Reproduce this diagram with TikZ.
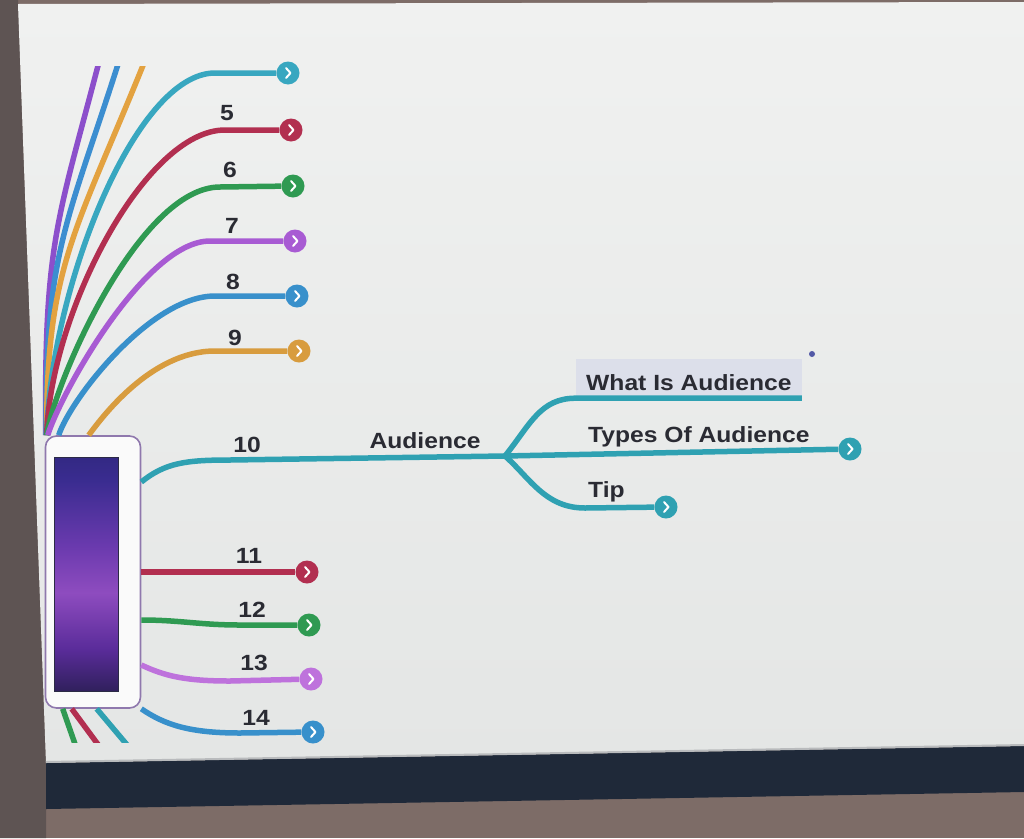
\documentclass[tikz,border=0pt]{standalone}
\usepackage{fontspec}
\setmainfont{Liberation Sans}[FakeStretch=1.12]
\usepackage{tikz}
\usetikzlibrary{positioning}

\definecolor{bezel}{HTML}{7D6C67}
\definecolor{bezelDark}{HTML}{5E5453}
\definecolor{screenTop}{HTML}{F0F1F0}
\definecolor{screenBot}{HTML}{E4E6E5}
\definecolor{dock}{HTML}{1F2939}
\definecolor{rim}{HTML}{B9BBBD}
\definecolor{ink}{HTML}{2A2B33}
\definecolor{hilite}{HTML}{DCDFEA}
\definecolor{handle}{HTML}{5259A6}
\definecolor{frame}{HTML}{8F78AD}
\definecolor{shotEdge}{HTML}{2B2A45}
\definecolor{tealA}{HTML}{38A7C0}
\definecolor{tealB}{HTML}{2FA1B2}
\definecolor{crimson}{HTML}{B22F50}
\definecolor{leaf}{HTML}{2F9A52}
\definecolor{violet}{HTML}{A85BD3}
\definecolor{orchid}{HTML}{BE72DC}
\definecolor{sky}{HTML}{3890CB}
\definecolor{amber}{HTML}{D89C3E}
\definecolor{fanP}{HTML}{8C4FCB}
\definecolor{fanB}{HTML}{3C8ED0}
\definecolor{fanO}{HTML}{E3A240}
\definecolor{shotA}{HTML}{1C1A3A}
\definecolor{shotB}{HTML}{221C48}
\definecolor{shotC}{HTML}{5A2C9A}
\definecolor{shotD}{HTML}{8E4CBF}
\definecolor{shotE}{HTML}{6A3AAE}
\definecolor{shotF}{HTML}{3A2C90}
\definecolor{shotG}{HTML}{25226A}
\definecolor{shotH}{HTML}{1F1D5A}

\pgfdeclareverticalshading{thumbglow}{100bp}{color(0bp)=(shotA); color(22bp)=(shotB);
  color(34bp)=(shotC); color(46bp)=(shotD); color(56bp)=(shotE); color(70bp)=(shotF);
  color(85bp)=(shotG); color(100bp)=(shotH)}

\begin{document}
\begin{tikzpicture}[x=1pt,y=-1pt,
    twig/.style={line width=5.5pt, draw=#1},
    endmark/.style={circle, fill=#1, minimum size=23pt, inner sep=0pt,
      path picture={\draw[white, line width=2pt, line cap=round, line join=round]
        ([xshift=-2pt,yshift=5pt]path picture bounding box.center) -- ++(4.5pt,-5pt) -- ++(-4.5pt,-5pt);}},
    lbl/.style={font=\fontsize{22}{26}\selectfont\bfseries, text=ink, inner sep=0pt}]
  \useasboundingbox (0,0) rectangle (1024,838);

  % laptop screen
  \fill[bezel] (0,0) rectangle (1024,838);
  \fill[bezelDark] (0,0) -- (18,0) -- (46,763) -- (46,838) -- (0,838) -- cycle;
  \shade[top color=screenTop, bottom color=screenBot] (18,4) -- (1024,2) -- (1024,746) -- (46,763) -- cycle;
  \fill[dock] (46,763) -- (1024,746) -- (1024,792) -- (46,809) -- cycle;
  \draw[rim, line width=2pt] (46,762) -- (1024,745);

  % central topic
  \node[draw=frame, line width=1.6pt, fill=white!96!gray, rounded corners=11pt,
    minimum width=95pt, minimum height=272pt] (thumb) at (93,572) {};
  \node[shade, shading=thumbglow, draw=shotEdge, line width=0.8pt,
    minimum width=64pt, minimum height=234pt] (shot) at (86,574) {};

  \node[endmark=tealA] (m4) at (288,73) {};
  \node[endmark=crimson] (m5) at (291,130) {};
  \node[endmark=leaf] (m6) at (293,186) {};
  \node[endmark=violet] (m7) at (295,241) {};
  \node[endmark=sky] (m8) at (297,296) {};
  \node[endmark=amber] (m9) at (299,351) {};
  \node[endmark=crimson] (m11) at (307,572) {};
  \node[endmark=leaf] (m12) at (309,625) {};
  \node[endmark=orchid] (m13) at (311,679) {};
  \node[endmark=sky] (m14) at (313,732) {};
  \node[endmark=tealB] (mTypes) at (850,449) {};
  \node[endmark=tealB] (mTip) at (666,507) {};

  \node[lbl, anchor=base] (n5) at (227,120) {5};
  \node[lbl, anchor=base] (n6) at (230,177) {6};
  \node[lbl, anchor=base] (n7) at (232,233) {7};
  \node[lbl, anchor=base] (n8) at (233,289) {8};
  \node[lbl, anchor=base] (n9) at (235,345) {9};
  \node[lbl, anchor=base] (n10) at (247,452) {10};
  \node[lbl, anchor=base] (n11) at (249,563) {11};
  \node[lbl, anchor=base] (n12) at (252,617) {12};
  \node[lbl, anchor=base] (n13) at (254,670) {13};
  \node[lbl, anchor=base] (n14) at (256,725) {14};

  \node[lbl, anchor=base] (topic) at (425,448) {Audience};
  \node[lbl, anchor=base west, fill=hilite, inner xsep=10pt, inner ysep=3pt,
    text height=28pt, text depth=5pt] (what) at (576,390) {What Is Audience};
  \node[lbl, anchor=base west] (types) at (588,442) {Types Of Audience};
  \node[lbl, anchor=base west] (tip) at (588,497) {Tip};
  \node[circle, fill=handle, minimum size=6pt, inner sep=0pt] (grip) at (812,354) {};
  \coordinate (hub) at (505,456);

  % branches above the topic
  \begin{scope}
    \clip (0,66) rectangle (1024,440);
    \draw[twig=fanP] ([xshift=1pt]thumb.north west) .. controls (44,240) and (58,220) .. (100,58);
    \draw[twig=fanB] ([xshift=1.5pt]thumb.north west) .. controls (45,250) and (66,228) .. (120,58);
    \draw[twig=fanO] ([xshift=2pt]thumb.north west) .. controls (46,265) and (76,232) .. (146,58);
  \end{scope}
  \draw[twig=tealA] ([xshift=2pt]thumb.north west) .. controls (50,290) and (135,73) .. (215,73) -- (m4);
  \draw[twig=crimson] ([xshift=2pt]thumb.north west) .. controls (50,314) and (145,130) .. (225,130) -- (m5);
  \draw[twig=leaf] ([xshift=2pt]thumb.north west) .. controls (55,380) and (140,187) .. (220,187) -- (m6);
  \draw[twig=violet] ([xshift=3pt]thumb.north west) .. controls (60,395) and (145,241) .. (210,241) -- (m7);
  \draw[twig=sky] ([xshift=14pt]thumb.north west) .. controls (70,400) and (150,296) .. (215,296) -- (m8);
  \draw[twig=amber] ([xshift=44pt]thumb.north west) .. controls (100,420) and (150,351) .. (215,351) -- (m9);

  % branches beside and below
  \draw[twig=tealB] ([yshift=90pt]thumb.east) .. controls (165,463) and (185,460) .. (230,460) -- (hub);
  \draw[twig=crimson] (thumb.east) -- (m11);
  \draw[twig=leaf] ([yshift=-48pt]thumb.east) .. controls (180,620) and (200,625) .. (240,625) -- (m12);
  \draw[twig=orchid] ([yshift=-93pt]thumb.east) .. controls (165,676) and (185,681) .. (230,681) -- (m13);
  \draw[twig=sky] (thumb.south east) .. controls (165,725) and (190,733) .. (240,733) -- (m14);
  \begin{scope}
    \clip (0,700) rectangle (1024,742);
    \draw[twig=leaf] ([xshift=18pt]thumb.south west) -- +(14,40);
    \draw[twig=crimson] ([xshift=27pt]thumb.south west) -- +(28,38);
    \draw[twig=tealB] ([xshift=52pt]thumb.south west) -- +(32,38);
  \end{scope}

  % subtopics
  \draw[twig=tealB] (hub) .. controls (530,425) and (540,398) .. (what.south west) -- (what.south east);
  \draw[twig=tealB] (hub) -- (mTypes);
  \draw[twig=tealB] (hub) .. controls (530,478) and (545,508) .. (585,508) -- (mTip);
\end{tikzpicture}
\end{document}
